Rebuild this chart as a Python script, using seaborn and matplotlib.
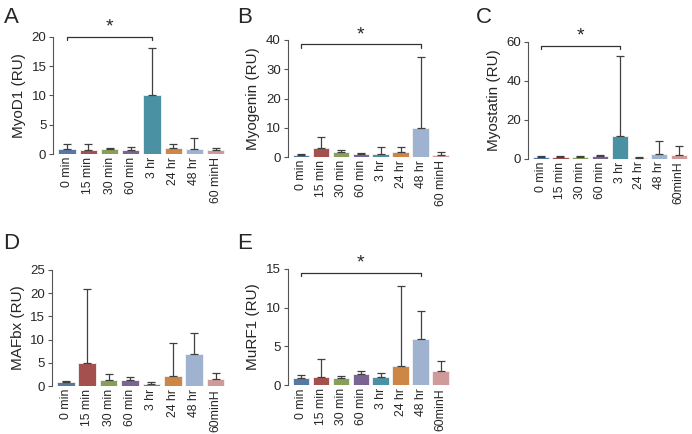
"""
Time course of muscle gene expression (RU), five panels
"""

import numpy as np
import pandas as pd
import matplotlib
matplotlib.use("Agg")
import matplotlib.pyplot as plt
import seaborn as sns

# time points (tick labels differ slightly between panels)
times_ab = ['0 min', '15 min', '30 min', '60 min', '3 hr', '24 hr', '48 hr', '60 minH']
times_cde = ['0 min', '15 min', '30 min', '60 min', '3 hr', '24 hr', '48 hr', '60minH']

# mean and SD per panel
myod1_mean = [0.9, 0.7, 0.8, 0.7, 10.0, 1.1, 0.8, 0.7]
myod1_sd = [0.8, 1.1, 0.2, 0.5, 8.1, 0.6, 1.9, 0.4]

myogenin_mean = [0.8, 3.0, 1.7, 1.2, 1.2, 1.7, 10.0, 0.8]
myogenin_sd = [0.4, 3.7, 0.8, 0.3, 2.3, 1.8, 24.2, 0.8]

myostatin_mean = [0.8, 0.8, 0.9, 1.3, 11.5, 0.5, 2.5, 2.0]
myostatin_sd = [0.5, 0.5, 0.4, 0.5, 41.2, 0.5, 6.8, 4.5]

mafbx_mean = [0.9, 4.9, 1.3, 1.3, 0.5, 2.3, 6.9, 1.5]
mafbx_sd = [0.2, 16.0, 1.4, 0.7, 0.4, 7.1, 4.6, 1.4]

murf1_mean = [0.9, 1.1, 0.9, 1.5, 1.1, 2.5, 6.0, 1.8]
murf1_sd = [0.4, 2.3, 0.3, 0.3, 0.5, 10.3, 3.5, 1.3]

colors = ['#4a76b0', '#b3423f', '#8cab4c', '#7a5c9c', '#3b9bb2',
          '#e5842f', '#97b1d8', '#d89391']

# (letter, ylabel, labels, mean, sd, yticks, bracket (i, j, y), axes rect, letter pos)
panels = [
    ('A', 'MyoD1 (RU)', times_ab, myod1_mean, myod1_sd, [0, 5, 10, 15, 20],
     (0, 4, 20), [0.077, 0.645, 0.250, 0.270], (0.005, 0.985)),
    ('B', 'Myogenin (RU)', times_ab, myogenin_mean, myogenin_sd, [0, 10, 20, 30, 40],
     (0, 6, 38.5), [0.416, 0.638, 0.235, 0.270], (0.342, 0.985)),
    ('C', 'Myostatin (RU)', times_cde, myostatin_mean, myostatin_sd, [0, 20, 40, 60],
     (0, 4, 58), [0.763, 0.634, 0.232, 0.270], (0.688, 0.985)),
    ('D', 'MAFbx (RU)', times_cde, mafbx_mean, mafbx_sd, [0, 5, 10, 15, 20, 25],
     None, [0.075, 0.110, 0.252, 0.268], (0.005, 0.463)),
    ('E', 'MuRF1 (RU)', times_cde, murf1_mean, murf1_sd, [0, 5, 10, 15],
     (0, 6, 14.5), [0.416, 0.112, 0.235, 0.269], (0.342, 0.463)),
]

sns.set_style('white')
plt.rcParams['font.family'] = ['Liberation Sans', 'DejaVu Sans']

fig = plt.figure(figsize=(6.92, 4.34), dpi=100)

for letter, ylabel, labels, mean, sd, yticks, bracket, rect, lpos in panels:
    ax = fig.add_axes(rect)
    df = pd.DataFrame({'time': labels, 'value': mean})
    sns.barplot(data=df, x='time', y='value', hue='time', palette=colors,
                order=labels, legend=False, width=0.82, edgecolor='#f4f4f4',
                linewidth=0.6, ax=ax)
    # upper error bars only
    ax.errorbar(np.arange(len(mean)), mean,
                yerr=[np.zeros(len(sd)), sd], fmt='none',
                ecolor='#404040', elinewidth=0.9, capsize=3, capthick=0.9,
                zorder=1)
    ax.set_xlim(-0.65, 7.5)
    ax.set_ylim(0, yticks[-1])
    ax.set_yticks(yticks)
    ax.set_xlabel('')
    ax.set_ylabel(ylabel, fontsize=11, labelpad=4)
    ax.tick_params(axis='y', labelsize=9.5, length=3, width=0.8, pad=2,
                   left=True, color='#555555')
    ax.tick_params(axis='x', labelsize=8.8, length=0, pad=2, rotation=90)
    for s in ['top', 'right', 'bottom']:
        ax.spines[s].set_visible(False)
    ax.spines['left'].set_color('#555555')
    ax.spines['left'].set_linewidth(0.8)

    if bracket is not None:
        i, j, yb = bracket
        tick = yticks[-1] * 0.03
        ax.plot([i, i, j, j], [yb - tick, yb, yb, yb - tick], color='#333333',
                lw=0.9, clip_on=False)
        ax.text((i + j) / 2, yb + yticks[-1] * 0.01, '*', ha='center',
                va='bottom', fontsize=14, clip_on=False)

    # panel letter
    fig.text(lpos[0], lpos[1], letter, fontsize=16, ha='left', va='top')

fig.savefig('out.png', dpi=100)
